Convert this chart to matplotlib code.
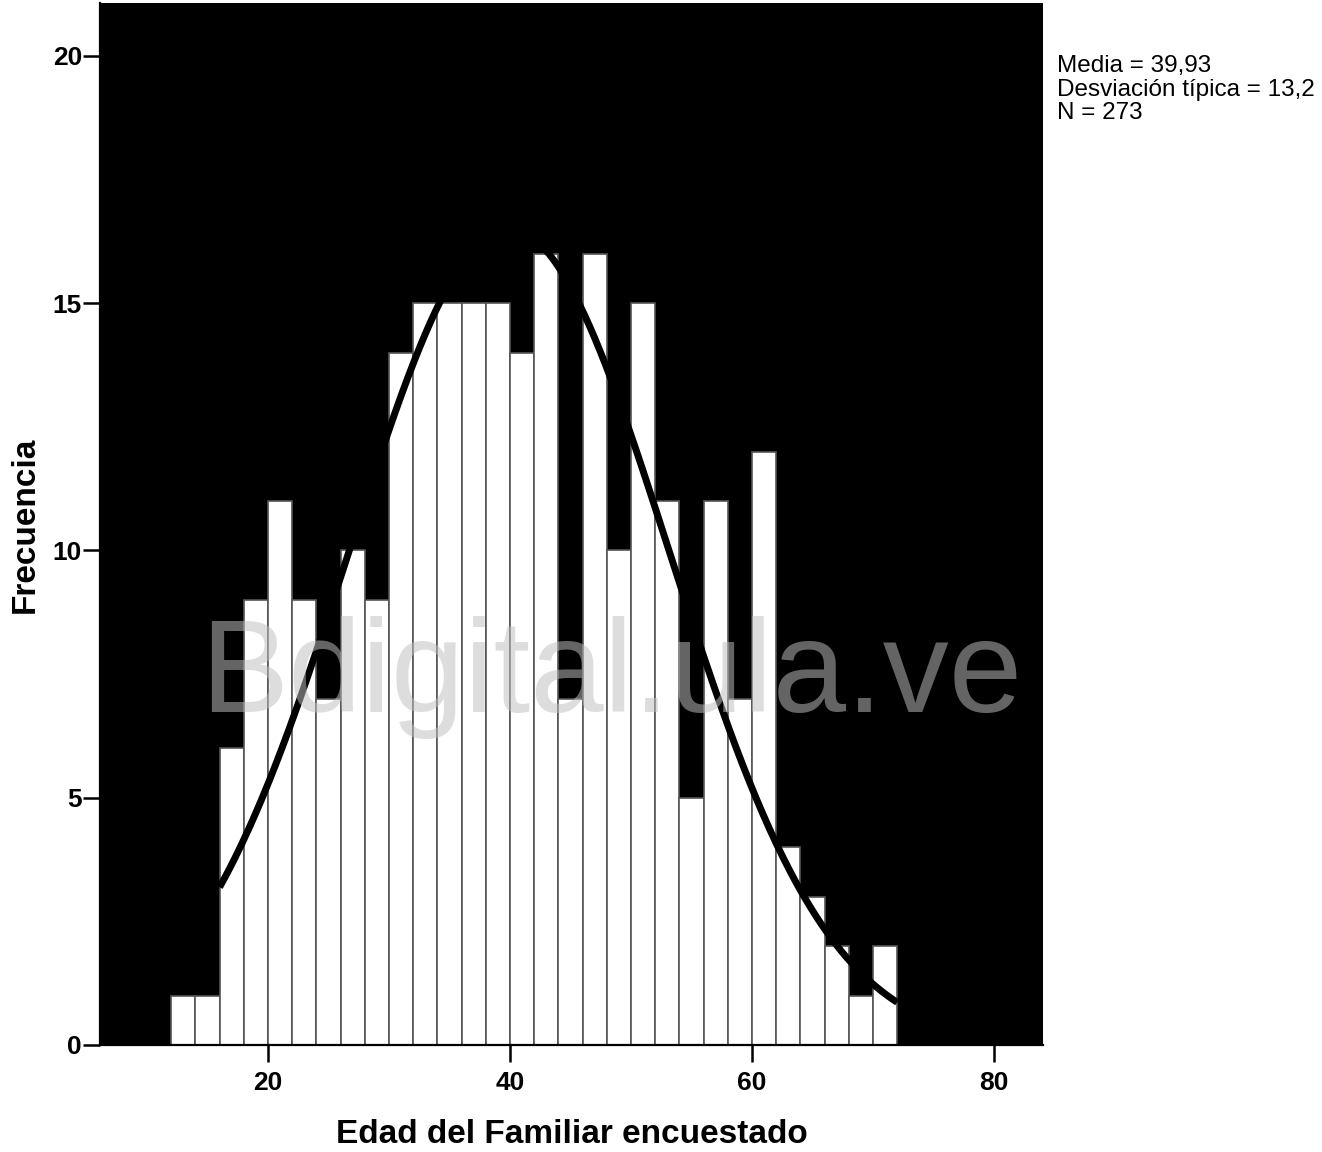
import numpy as np
import matplotlib
matplotlib.use("Agg")
import matplotlib.pyplot as plt

# Data
bin_edges = list(range(12, 74, 2))
counts = [1, 1, 6, 9, 11, 9, 7, 10, 9, 14, 15, 15, 15, 15, 14, 16, 7, 16,
          10, 15, 11, 5, 11, 7, 12, 4, 3, 2, 1, 2]
media = 39.93
desviacion = 13.2
n_total = 273
curve_range = (16, 72)
x_ticks = [20, 40, 60, 80]
y_ticks = [0, 5, 10, 15, 20]

plt.rcParams['font.family'] = ['Liberation Sans', 'DejaVu Sans']

fig = plt.figure(figsize=(13.22, 11.52), dpi=100)
ax = fig.add_axes([100/1322, 1-1045/1152, (1043-100)/1322, (1045-3)/1152])
ax.set_facecolor('black')

lefts = np.array(bin_edges[:-1])
widths = np.diff(bin_edges)
ax.bar(lefts, counts, width=widths, align='edge', color='white',
       edgecolor='#555555', linewidth=1.2, zorder=2)

bw = widths[0]
xs = np.linspace(curve_range[0], curve_range[1], 400)
ys = n_total * bw / (desviacion * np.sqrt(2*np.pi)) * np.exp(-0.5*((xs-media)/desviacion)**2)
ax.plot(xs, ys, color='black', linewidth=5, zorder=3, solid_capstyle='butt')

ax.set_xlim(6.12, 84.05)
ax.set_ylim(0, 21.07)
ax.set_xticks(x_ticks)
ax.set_yticks(y_ticks)
ax.tick_params(axis='both', direction='out', length=12, width=1.8, labelsize=19)
ax.tick_params(axis='x', pad=7)
ax.tick_params(axis='y', pad=1)
for lab in ax.get_xticklabels() + ax.get_yticklabels():
    lab.set_fontweight('bold')
for s in ['top', 'right']:
    ax.spines[s].set_visible(False)
for s in ['left', 'bottom']:
    ax.spines[s].set_linewidth(1.6)

ax.set_xlabel('Edad del Familiar encuestado', fontsize=24, fontweight='bold', labelpad=17)
ax.set_ylabel('Frecuencia', fontsize=24, fontweight='bold', va='center')
ax.yaxis.set_label_coords(-75/943, 0.5 - (525 - 524)/1042)

fig.text(1057/1322, 1-55/1152,
         'Media = %s\nDesviación típica = %s\nN = %d' % (
             f"{media:.2f}".replace('.', ','), f"{desviacion:.1f}".replace('.', ','), n_total),
         fontsize=17.5, va='top', ha='left', linespacing=1.1)

fig.text(611/1322, 1-712/1152, 'Bdigital.ula.ve', fontsize=95, color=(0.75, 0.75, 0.75),
         alpha=0.53, ha='center', va='baseline', zorder=10)

fig.savefig('out.png', dpi=100, facecolor='white')
